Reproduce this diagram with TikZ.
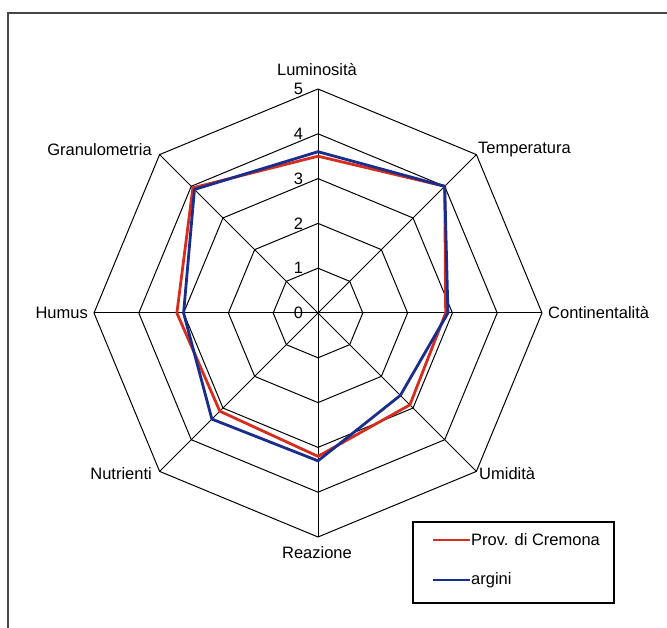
\documentclass[tikz,border=0pt]{standalone}
\usepackage{fontspec}
\setmainfont{Liberation Sans}
\usepackage{xcolor}
\definecolor{crosso}{RGB}{215,45,30}
\definecolor{cblu}{RGB}{25,45,140}
\definecolor{cbordo}{RGB}{70,70,70}

\begin{document}
\begin{tikzpicture}[x=1bp, y=1bp, font=\fontsize{16.5bp}{19bp}\selectfont]
\useasboundingbox (0,0) rectangle (667,628);
\draw[line width=1.5bp, cbordo] (8,0) -- (8,615) -- (667,615);
% griglia e serie
\begin{scope}[shift={(318,315)}, x=44.8bp, y=44.8bp]
\foreach \r in {1,...,5}
  \draw[line width=1bp] (0:\r) \foreach \a in {45,90,...,315} { -- (\a:\r) } -- cycle;
\foreach \a in {0,45,...,315} \draw[line width=1bp] (0,0) -- (\a:5);
\foreach \v in {0,...,5} \node[anchor=east, inner sep=0pt] (tick\v) at (-0.33,\v) {\v};
\draw[line width=2.8bp, crosso, line join=round] (90:3.5) -- (45:4.0) -- (0:2.85) -- (-45:2.9) -- (-90:3.2) -- (-135:3.1) -- (180:3.15) -- (135:3.95) -- cycle;
\draw[line width=2.8bp, cblu, line join=round] (90:3.6) -- (45:4.0) -- (0:2.9) -- (-45:2.6) -- (-90:3.3) -- (-135:3.35) -- (180:3.0) -- (135:3.9) -- cycle;
\end{scope}
% etichette degli assi
\node (lum) at (317,558) {Luminosità};
\node[anchor=west, inner sep=0pt] (temp) at (478,478) {Temperatura};
\node[anchor=west, inner sep=0pt] (cont) at (548,315) {Continentalità};
\node[anchor=west, inner sep=0pt] (umid) at (479,154) {Umidità};
\node (reaz) at (317,75) {Reazione};
\node[anchor=east, inner sep=0pt] (nutr) at (152,154) {Nutrienti};
\node[anchor=east, inner sep=0pt] (hum) at (88,315) {Humus};
\node[anchor=east, inner sep=0pt] (gran) at (152,478) {Granulometria};
% legenda
\draw[line width=1.3bp] (413,25) rectangle (614,106);
\coordinate (r1) at (433,88); \coordinate (r2) at (470,88);
\coordinate (b1) at (433,48); \coordinate (b2) at (470,48);
\draw[line width=2.8bp, crosso] (r1) -- (r2);
\draw[line width=2.8bp, cblu] (b1) -- (b2);
\node[anchor=west, inner sep=1pt] (lprov) at (r2) {Prov. di Cremona};
\node[anchor=west, inner sep=1pt] (larg) at (b2) {argini};
\end{tikzpicture}
\end{document}
